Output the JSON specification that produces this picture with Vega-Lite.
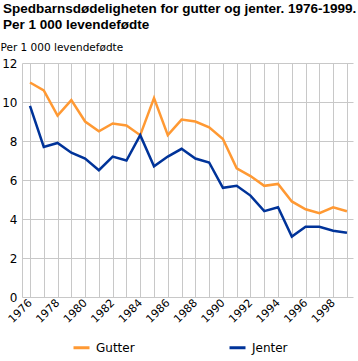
{
  "$schema": "https://vega.github.io/schema/vega-lite/v6.json",
  "width": 331,
  "height": 234,
  "autosize": {"type": "none"},
  "padding": {"left": 22, "top": 63, "right": 5, "bottom": 64},
  "background": "white",
  "title": {
    "text": ["Spedbarnsdødeligheten for gutter og jenter. 1976-1999.", "Per 1 000 levendefødte"],
    "anchor": "start",
    "frame": "group",
    "font": "Liberation Sans",
    "fontSize": 13.5,
    "fontWeight": "bold",
    "color": "#000000",
    "lineHeight": 16,
    "dx": -19,
    "offset": 11
  },
  "data": {
    "values": [
      {"year": 1976, "series": "Gutter", "value": 11.0},
      {"year": 1977, "series": "Gutter", "value": 10.6},
      {"year": 1978, "series": "Gutter", "value": 9.3},
      {"year": 1979, "series": "Gutter", "value": 10.1},
      {"year": 1980, "series": "Gutter", "value": 9.0},
      {"year": 1981, "series": "Gutter", "value": 8.5},
      {"year": 1982, "series": "Gutter", "value": 8.9},
      {"year": 1983, "series": "Gutter", "value": 8.8},
      {"year": 1984, "series": "Gutter", "value": 8.3},
      {"year": 1985, "series": "Gutter", "value": 10.2},
      {"year": 1986, "series": "Gutter", "value": 8.3},
      {"year": 1987, "series": "Gutter", "value": 9.1},
      {"year": 1988, "series": "Gutter", "value": 9.0},
      {"year": 1989, "series": "Gutter", "value": 8.7},
      {"year": 1990, "series": "Gutter", "value": 8.1},
      {"year": 1991, "series": "Gutter", "value": 6.6},
      {"year": 1992, "series": "Gutter", "value": 6.2},
      {"year": 1993, "series": "Gutter", "value": 5.7},
      {"year": 1994, "series": "Gutter", "value": 5.8},
      {"year": 1995, "series": "Gutter", "value": 4.9},
      {"year": 1996, "series": "Gutter", "value": 4.5},
      {"year": 1997, "series": "Gutter", "value": 4.3},
      {"year": 1998, "series": "Gutter", "value": 4.6},
      {"year": 1999, "series": "Gutter", "value": 4.4},
      {"year": 1976, "series": "Jenter", "value": 9.8},
      {"year": 1977, "series": "Jenter", "value": 7.7},
      {"year": 1978, "series": "Jenter", "value": 7.9},
      {"year": 1979, "series": "Jenter", "value": 7.4},
      {"year": 1980, "series": "Jenter", "value": 7.1},
      {"year": 1981, "series": "Jenter", "value": 6.5},
      {"year": 1982, "series": "Jenter", "value": 7.2},
      {"year": 1983, "series": "Jenter", "value": 7.0},
      {"year": 1984, "series": "Jenter", "value": 8.3},
      {"year": 1985, "series": "Jenter", "value": 6.7},
      {"year": 1986, "series": "Jenter", "value": 7.2},
      {"year": 1987, "series": "Jenter", "value": 7.6},
      {"year": 1988, "series": "Jenter", "value": 7.1},
      {"year": 1989, "series": "Jenter", "value": 6.9},
      {"year": 1990, "series": "Jenter", "value": 5.6},
      {"year": 1991, "series": "Jenter", "value": 5.7},
      {"year": 1992, "series": "Jenter", "value": 5.2},
      {"year": 1993, "series": "Jenter", "value": 4.4},
      {"year": 1994, "series": "Jenter", "value": 4.6},
      {"year": 1995, "series": "Jenter", "value": 3.1},
      {"year": 1996, "series": "Jenter", "value": 3.6},
      {"year": 1997, "series": "Jenter", "value": 3.6},
      {"year": 1998, "series": "Jenter", "value": 3.4},
      {"year": 1999, "series": "Jenter", "value": 3.3}
    ]
  },
  "mark": {"type": "line", "strokeWidth": 2.5, "strokeJoin": "miter"},
  "encoding": {
    "x": {
      "field": "year",
      "type": "quantitative",
      "scale": {"domain": [1975.42, 1999.44], "nice": false, "zero": false},
      "axis": {
        "values": [1976,1977,1978,1979,1980,1981,1982,1983,1984,1985,1986,1987,1988,1989,1990,1991,1992,1993,1994,1995,1996,1997,1998,1999],
        "labelExpr": "datum.value % 2 == 0 ? format(datum.value, 'd') : ''",
        "labelOverlap": false,
        "labelAngle": -45,
        "labelAlign": "right",
        "labelBaseline": "middle",
        "labelFont": "DejaVu Sans",
        "labelFontSize": 11,
        "labelColor": "#000000",
        "labelPadding": 4,
        "ticks": false,
        "domain": false,
        "grid": true,
        "gridColor": "#c8c8c8",
        "gridOpacity": 1,
        "title": null
      }
    },
    "y": {
      "field": "value",
      "type": "quantitative",
      "scale": {"domain": [0, 12], "nice": false},
      "axis": {
        "values": [0, 2, 4, 6, 8, 10, 12],
        "labelFont": "DejaVu Sans",
        "labelFontSize": 12,
        "labelColor": "#000000",
        "labelPadding": 5,
        "ticks": false,
        "domain": true,
        "domainColor": "#c8c8c8",
        "grid": true,
        "gridColor": "#c8c8c8",
        "gridOpacity": 1,
        "title": "Per 1 000 levendefødte",
        "titleAngle": 0,
        "titleAlign": "left",
        "titleBaseline": "alphabetic",
        "titleX": -22,
        "titleY": -13,
        "titleFont": "DejaVu Sans",
        "titleFontSize": 10.5,
        "titleFontWeight": "normal",
        "titleColor": "#000000"
      }
    },
    "color": {
      "field": "series",
      "type": "nominal",
      "scale": {"domain": ["Gutter", "Jenter"], "range": ["#ff9933", "#003399"]},
      "legend": {
        "title": null,
        "orient": "none",
        "legendX": 50,
        "legendY": 275,
        "direction": "horizontal",
        "symbolType": "stroke",
        "symbolSize": 256,
        "symbolStrokeWidth": 3,
        "labelFont": "DejaVu Sans",
        "labelFontSize": 12,
        "labelColor": "#000000",
        "labelOffset": 5,
        "columnPadding": 88
      }
    }
  },
  "config": {"view": {"stroke": null}}
}
